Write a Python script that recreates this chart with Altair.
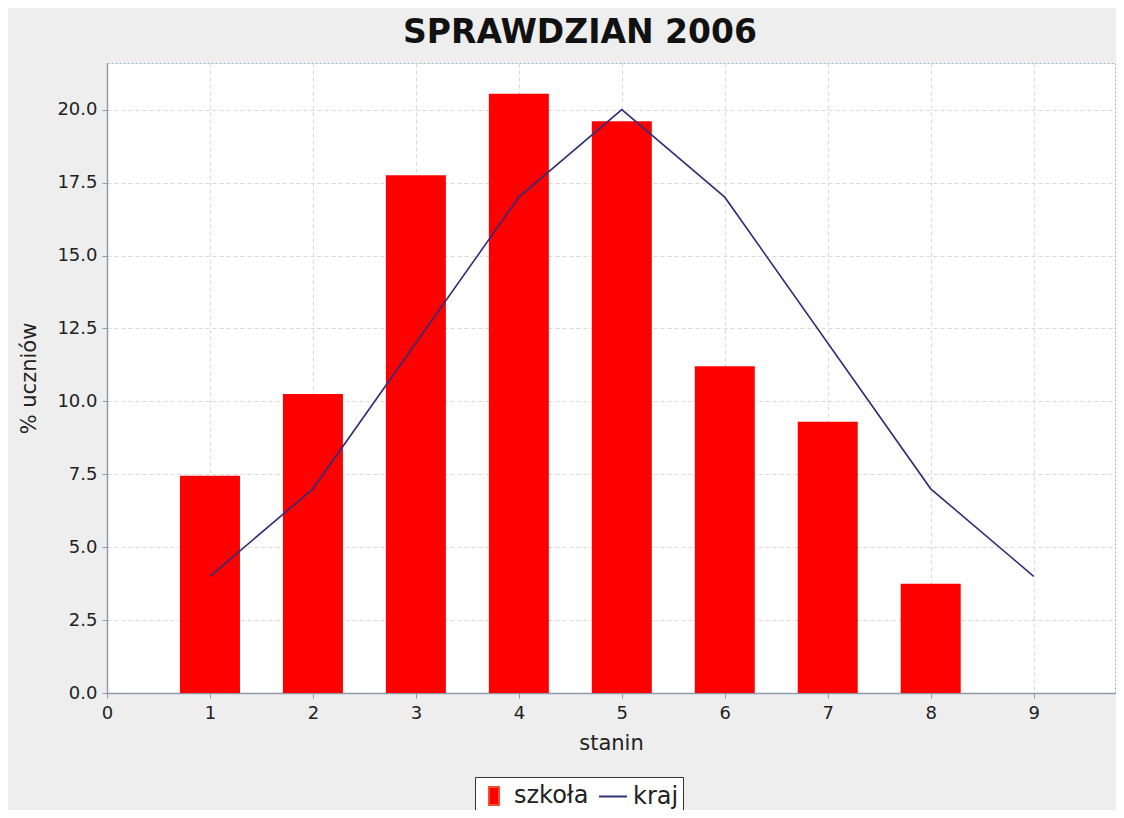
import altair as alt
import pandas as pd

# Data
stanin_bars = [1, 2, 3, 4, 5, 6, 7, 8]
szkola_pct = [7.45, 10.25, 17.75, 20.55, 19.6, 11.2, 9.3, 3.75]

stanin_line = [1, 2, 3, 4, 5, 6, 7, 8, 9]
kraj_pct = [4, 7, 12, 17, 20, 17, 12, 7, 4]

series_names = ["szkoła", "kraj"]
x_ticks = [0, 1, 2, 3, 4, 5, 6, 7, 8, 9]
y_ticks = [0, 2.5, 5, 7.5, 10, 12.5, 15, 17.5, 20]

RED = "#ff0000"
NAVY = "#2e2f78"
FONT = "DejaVu Sans"

bars_df = pd.DataFrame({"stanin": stanin_bars, "pct": szkola_pct})
line_df = pd.DataFrame({"stanin": stanin_line, "pct": kraj_pct})
legend_df = pd.DataFrame({"series": series_names, "stanin": [1, 1], "pct": [0, 0]})

x_scale = alt.Scale(domain=[0, 9.79], nice=False, zero=False, padding=0)
y_scale = alt.Scale(domain=[0, 21.6], nice=False, padding=0)

x_enc = alt.X(
    "stanin:Q",
    scale=x_scale,
    axis=alt.Axis(values=x_ticks, format="d", title="stanin", titlePadding=10,
                  labelPadding=6, labelFlush=False),
)
y_enc = alt.Y(
    "pct:Q",
    scale=y_scale,
    axis=alt.Axis(values=y_ticks, format=".1f", title="% uczniów", titlePadding=17,
                  labelFlush=False),
)

bars = alt.Chart(bars_df).mark_bar(color=RED, size=60).encode(x=x_enc, y=y_enc)

line = alt.Chart(line_df).mark_line(color=NAVY, strokeWidth=1.6).encode(x=x_enc, y=y_enc)

leg = alt.Legend(
    title=None,
    orient="none",
    legendX=368,
    legendY=714,
    direction="horizontal",
    labelFontSize=24,
    labelFont=FONT,
    labelColor="#222222",
    fillColor="#ffffff",
    strokeColor="#333333",
    padding=4,
    symbolSize=784,
    symbolStrokeWidth=2,
    symbolOpacity=1,
    columnPadding=6,
    labelOffset=5,
)

legend_layer = (
    alt.Chart(legend_df)
    .transform_filter("false")
    .mark_point(filled=True, opacity=1)
    .encode(
        x=x_enc,
        y=y_enc,
        color=alt.Color("series:N", scale=alt.Scale(domain=series_names, range=[RED, NAVY]), legend=leg),
        stroke=alt.Stroke("series:N", scale=alt.Scale(domain=series_names, range=["#f05030", NAVY]), legend=leg),
        shape=alt.Shape(
            "series:N",
            scale=alt.Scale(domain=series_names, range=["M-0.36,-0.64H0.36V0.64H-0.36Z", "stroke"]),
            legend=leg,
        ),
    )
)

chart = (
    alt.layer(bars, line, legend_layer)
    .properties(
        width=1008,
        height=630,
        autosize=alt.AutoSizeParams(type="none"),
        padding={"left": 99, "top": 55, "right": 1, "bottom": 117},
        background="#eeeeee",
        title=alt.Title(
            "SPRAWDZIAN 2006",
            font=FONT,
            fontSize=33,
            fontWeight="bold",
            color="#111111",
            anchor="middle",
            dx=-31,
            offset=13,
        ),
    )
    .configure_view(fill="#ffffff", stroke="#8fb3c8", strokeDash=[2, 2], strokeWidth=1)
    .configure_axis(
        labelFont=FONT,
        labelFontSize=18,
        labelColor="#222222",
        titleFont=FONT,
        titleFontSize=21,
        titleFontWeight="normal",
        titleColor="#222222",
        domainColor="#8e9aac",
        domainWidth=1.5,
        tickColor="#8e9aac",
        tickSize=5,
        labelPadding=5,
        gridColor="#d9d9d9",
        gridDash=[4, 3],
        gridWidth=1,
    )
)

chart.save("out.html", embed_options={"renderer": "svg", "actions": False})
